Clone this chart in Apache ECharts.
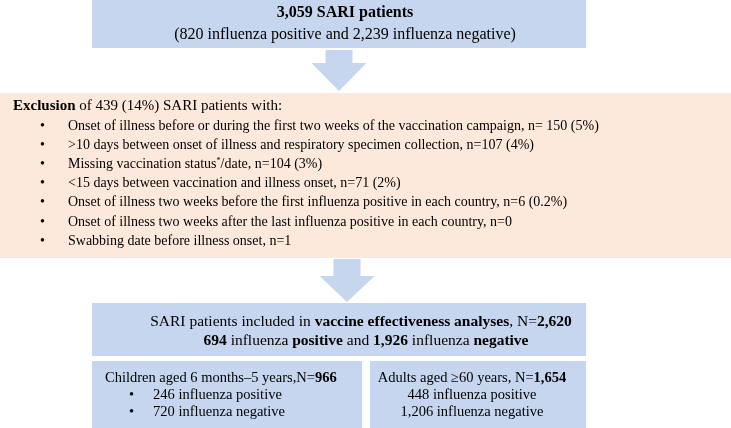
<!DOCTYPE html>
<html>
<head>
<meta charset="utf-8">
<script src="https://cdn.jsdelivr.net/npm/echarts@6/dist/echarts.min.js"></script>
<style>
html,body{margin:0;padding:0;background:#fff;}
#c{width:731px;height:428px;}
</style>
</head>
<body>
<div id="c"></div>
<script>
// ---- data ----
var totalPatients = ['3,059', '820', '2,239'];
var excluded = ['439', '14%'];
var exclusionReasons = [
  'Onset of illness before or during the first two weeks of the vaccination campaign, n= 150 (5%)',
  '>10 days between onset of illness and respiratory specimen collection, n=107 (4%)',
  'Missing vaccination status{sup|*}/date, n=104 (3%)',
  '<15 days between vaccination and illness onset, n=71 (2%)',
  'Onset of illness two weeks before the first influenza positive in each country, n=6 (0.2%)',
  'Onset of illness two weeks after the last influenza positive in each country, n=0',
  'Swabbing date before illness onset, n=1'
];
var included = ['2,620', '694', '1,926'];
var children = ['966', '246', '720'];
var adults = ['1,654', '448', '1,206'];

var FONT = '"Liberation Serif", "Times New Roman", serif';
var BLUE = '#c6d6ee';
var SALMON = '#fce9dc';

function font(sz, bold) { return (bold ? 'bold ' : '') + sz + 'px ' + FONT; }
function mkRich(sz) {
  return {
    b: { font: font(sz, true), fill: '#000' },
    sup: { font: font(Math.round(sz * 0.55)), fill: '#000', verticalAlign: 'top', padding: [0, 0, Math.round(sz * 0.4), 0] }
  };
}
function txt(x, y, text, sz, align) {
  return { type: 'text', silent: true, z: 10, style: {
    x: x, y: y, text: text, font: font(sz), fill: '#000', align: align || 'left', verticalAlign: 'middle', rich: mkRich(sz)
  } };
}
function box(x, y, w, h, color) {
  return { type: 'rect', silent: true, shape: { x: x, y: y, width: w, height: h }, style: { fill: color }, z: 1 };
}
function arrow(cx, y0, yh, y1, sw, hw) {
  return { type: 'polygon', silent: true, z: 2, shape: { points: [
    [cx - sw, y0], [cx + sw, y0], [cx + sw, yh], [cx + hw, yh], [cx, y1], [cx - hw, yh], [cx - sw, yh]
  ] }, style: { fill: BLUE } };
}

var els = [];
// top box
els.push(box(92, 0, 494, 48, BLUE));
els.push(txt(345, 13, '{b|' + totalPatients[0] + ' SARI patients}', 16, 'center'));
els.push(txt(345, 35, '(' + totalPatients[1] + ' influenza positive and ' + totalPatients[2] + ' influenza negative)', 16, 'center'));
// arrow 1
els.push(arrow(339, 50, 63, 91, 13.5, 27.5));
// exclusion box
els.push(box(0, 93, 731, 165, SALMON));
els.push(txt(13, 106, '{b|Exclusion} of ' + excluded[0] + ' (' + excluded[1] + ') SARI patients with:', 15));
exclusionReasons.forEach(function (r, i) {
  var y = 126 + i * 19.2;
  els.push(txt(40, y, '•', 14));
  els.push(txt(68, y, r, 14));
});
// arrow 2
els.push(arrow(347, 259, 276, 302, 13.5, 27.5));
// included box
els.push(box(92, 303, 494, 53, BLUE));
els.push(txt(361, 322, 'SARI patients included in {b|vaccine effectiveness analyses}, N={b|' + included[0] + '}', 15.5, 'center'));
els.push(txt(366, 341, '{b|' + included[1] + '} influenza {b|positive} and {b|' + included[2] + '} influenza {b|negative}', 15.5, 'center'));
// children box
els.push(box(92, 361, 270, 67, BLUE));
els.push(txt(105, 378, 'Children aged 6 months–5 years,N={b|' + children[0] + '}', 14.5));
els.push(txt(129, 395, '•', 14.5));
els.push(txt(153, 395, children[1] + ' influenza positive', 14.5));
els.push(txt(129, 412, '•', 14.5));
els.push(txt(153, 412, children[2] + ' influenza negative', 14.5));
// adults box
els.push(box(370, 361, 216, 67, BLUE));
els.push(txt(472, 378, 'Adults aged ≥60 years, N={b|' + adults[0] + '}', 14.5, 'center'));
els.push(txt(472, 395, adults[1] + ' influenza positive', 14.5, 'center'));
els.push(txt(472, 412, adults[2] + ' influenza negative', 14.5, 'center'));

var chart = echarts.init(document.getElementById('c'), null, { renderer: 'canvas' });
chart.setOption({ backgroundColor: '#fff', animation: false, graphic: { elements: els } });
</script>
</body>
</html>
